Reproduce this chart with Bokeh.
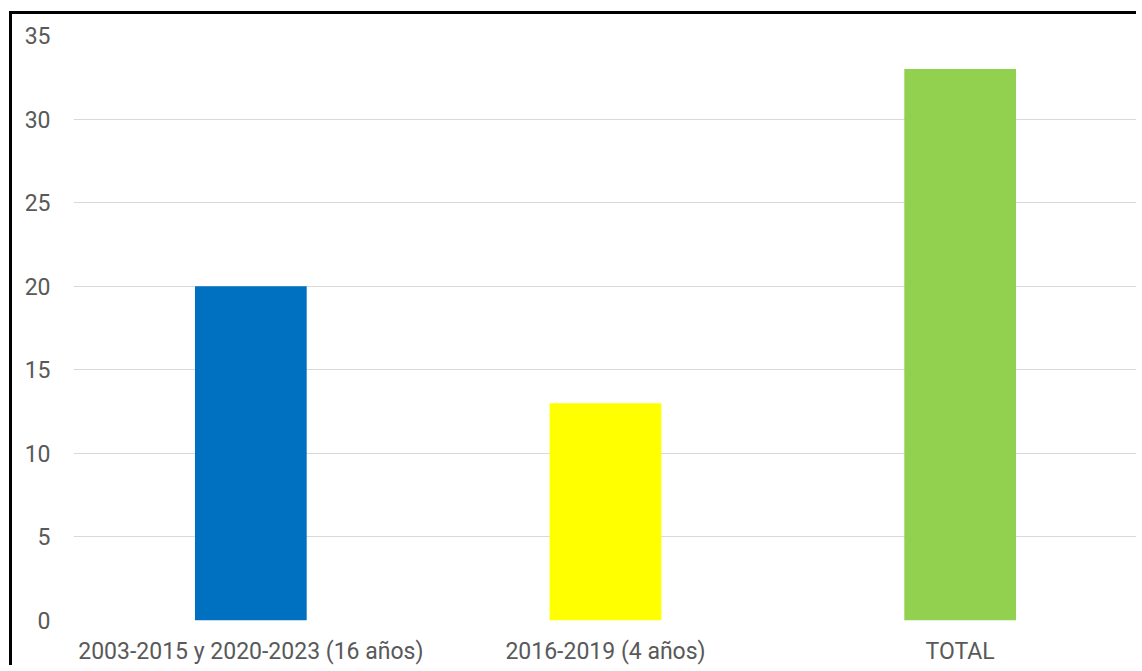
from bokeh.plotting import figure
from bokeh.models import ColumnDataSource, Range1d, FixedTicker
from bokeh.embed import file_html
from bokeh.resources import INLINE

categories = ["2003-2015 y 2020-2023 (16 años)", "2016-2019 (4 años)", "TOTAL"]
values = [20, 13, 33]
colors = ["#0070C0", "#FFFF00", "#92D050"]
y_ticks = [0, 5, 10, 15, 20, 25, 30, 35]

src = ColumnDataSource(dict(cat=categories, val=values, col=colors))

p = figure(x_range=categories, y_range=Range1d(0, 35), width=1127, height=654,
           output_backend="svg", toolbar_location=None,
           min_border_left=61, min_border_right=2, min_border_top=21, min_border_bottom=48)
p.x_range.range_padding = 0
p.vbar(x="cat", top="val", width=0.315, fill_color="col", line_color=None, source=src)

p.styles = {"border-top": "3px solid black", "border-left": "3px solid black",
            "margin-left": "9px", "margin-top": "11px"}
p.outline_line_color = None
p.xgrid.grid_line_color = None
p.ygrid.grid_line_color = "#D9D9D9"
p.ygrid.grid_line_width = 1
p.yaxis.ticker = FixedTicker(ticks=y_ticks)

for ax in (p.xaxis[0], p.yaxis[0]):
    ax.axis_line_color = None
    ax.major_tick_line_color = None
    ax.minor_tick_line_color = None
    ax.major_label_text_font = "Roboto"
    ax.major_label_text_font_size = "23px"
    ax.major_label_text_color = "#595959"
p.yaxis.major_label_standoff = 17
p.xaxis.major_label_standoff = 11

open("out.html", "w").write(file_html(p, INLINE))
